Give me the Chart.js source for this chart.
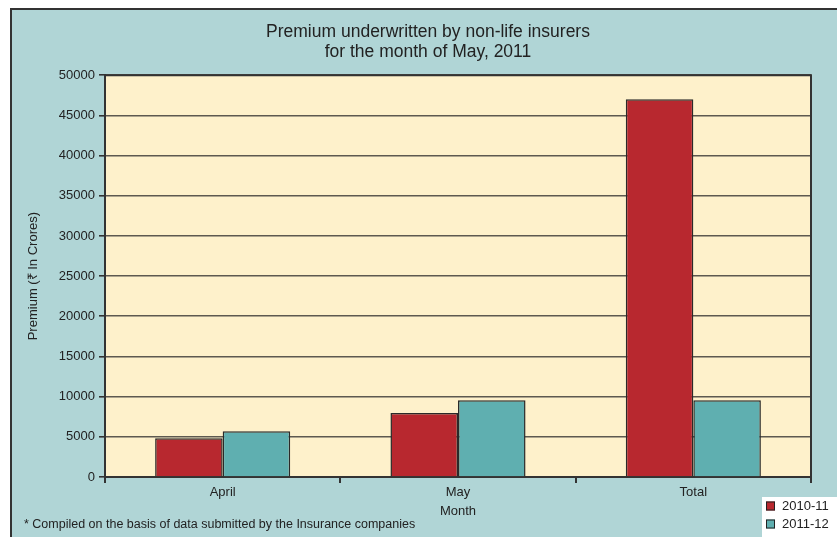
<!DOCTYPE html>
<html>
<head>
<meta charset="utf-8">
<script src="https://cdn.jsdelivr.net/npm/chart.js@4/dist/chart.umd.min.js"></script>
<style>
  html, body { margin: 0; padding: 0; background: #ffffff; }
  #wrap { width: 837px; height: 537px; position: relative; }
</style>
</head>
<body>
<div id="wrap"><canvas id="c" width="837" height="537"></canvas></div>
<script>
// Premium (Rs. crores) underwritten by non-life insurers
const months = ['April', 'May', 'Total'];
const premium2010_11 = [4810, 7960, 47020];
const premium2011_12 = [5680, 9540, 9540];
const seriesNames = ['2010-11', '2011-12'];
const titleLines = ['Premium underwritten by non-life insurers', 'for the month of May, 2011'];
const footnote = '* Compiled on the basis of data submitted by the Insurance companies';

const FONT = '"Liberation Sans Narrow", "Arial Narrow", "Liberation Sans", Arial, sans-serif';
const PANEL = '#b0d5d6';
const PLOT = '#fef1cb';
const EDGE = '#333333';
const colors = ['#b8282f', '#5fafb0'];

// panel, plot background, footnote and legend box
const decor = {
  id: 'decor',
  beforeDraw(chart) {
    const { ctx, chartArea: a } = chart;
    ctx.save();
    ctx.fillStyle = '#ffffff';
    ctx.fillRect(0, 0, chart.width, chart.height);
    ctx.fillStyle = PANEL;
    ctx.fillRect(11, 9, chart.width - 11, chart.height - 9);
    ctx.strokeStyle = EDGE;
    ctx.lineWidth = 2;
    ctx.beginPath();
    ctx.moveTo(11, chart.height);
    ctx.lineTo(11, 9);
    ctx.lineTo(chart.width, 9);
    ctx.stroke();
    ctx.fillStyle = PLOT;
    ctx.fillRect(a.left, a.top, a.right - a.left, a.bottom - a.top);
    ctx.restore();
  },
  afterDraw(chart) {
    const { ctx, chartArea: a } = chart;
    ctx.save();
    // plot frame (top and right)
    ctx.strokeStyle = EDGE;
    ctx.lineWidth = 2;
    ctx.beginPath();
    ctx.moveTo(a.left, a.top);
    ctx.lineTo(a.right, a.top);
    ctx.lineTo(a.right, a.bottom);
    ctx.stroke();
    // footnote
    ctx.fillStyle = '#222222';
    ctx.font = '12.5px ' + FONT;
    ctx.textBaseline = 'middle';
    ctx.textAlign = 'left';
    ctx.fillText(footnote, 24, 525);
    // legend
    ctx.fillStyle = '#ffffff';
    ctx.fillRect(762, 497, chart.width - 762, chart.height - 497);
    chart.data.datasets.forEach((ds, i) => {
      const y = 506 + i * 18;
      ctx.fillStyle = ds.backgroundColor;
      ctx.fillRect(766, y - 4.5, 9, 9);
      ctx.strokeStyle = '#222222';
      ctx.lineWidth = 1;
      ctx.strokeRect(766.5, y - 4, 8, 8);
      ctx.fillStyle = '#222222';
      ctx.font = '13px ' + FONT;
      ctx.fillText(ds.label, 782, y + 0.5);
    });
    ctx.restore();
  }
};

new Chart(document.getElementById('c'), {
  type: 'bar',
  data: {
    labels: months,
    datasets: [
      { label: seriesNames[0], data: premium2010_11, backgroundColor: colors[0] },
      { label: seriesNames[1], data: premium2011_12, backgroundColor: colors[1] }
    ]
  },
  options: {
    responsive: false,
    animation: false,
    devicePixelRatio: 1,
    layout: { padding: { left: 45, right: 26, top: 0, bottom: 0 } },
    datasets: {
      bar: {
        categoryPercentage: 0.574,
        barPercentage: 1.0,
        borderColor: '#2a2a2a',
        borderWidth: 1.5,
        borderSkipped: 'bottom'
      }
    },
    plugins: {
      legend: { display: false },
      tooltip: { enabled: false },
      title: {
        display: true,
        text: titleLines,
        color: '#222222',
        font: { family: FONT, size: 17.5, weight: 'normal', lineHeight: 1.15 },
        padding: { top: 22, bottom: 13 }
      }
    },
    scales: {
      x: {
        afterFit(scale) { scale.height = 60; },
        grid: {
          display: true,
          drawOnChartArea: false,
          drawTicks: true,
          tickLength: 6,
          color: EDGE,
          lineWidth: 2
        },
        border: { display: true, color: EDGE, width: 2 },
        ticks: { color: '#222222', padding: 2, font: { family: FONT, size: 13 } },
        title: {
          display: true,
          text: 'Month',
          color: '#222222',
          font: { family: FONT, size: 13, lineHeight: 1.1 },
          padding: { top: 0, bottom: 18 }
        }
      },
      y: {
        min: 0,
        max: 50000,
        afterFit(scale) { scale.width = 60; },
        ticks: {
          stepSize: 5000,
          color: '#222222',
          padding: 4,
          font: { family: FONT, size: 13 },
          callback: (v) => String(v)
        },
        grid: {
          color: '#5d5950',
          lineWidth: 1.6,
          tickLength: 6,
          tickColor: EDGE
        },
        border: { display: true, color: EDGE, width: 2 },
        title: {
          display: true,
          text: 'Premium (₹ In Crores)',
          color: '#222222',
          font: { family: FONT, size: 13, lineHeight: 1.1 },
          padding: { top: -19, bottom: 0 }
        }
      }
    }
  },
  plugins: [decor]
});
</script>
</body>
</html>
